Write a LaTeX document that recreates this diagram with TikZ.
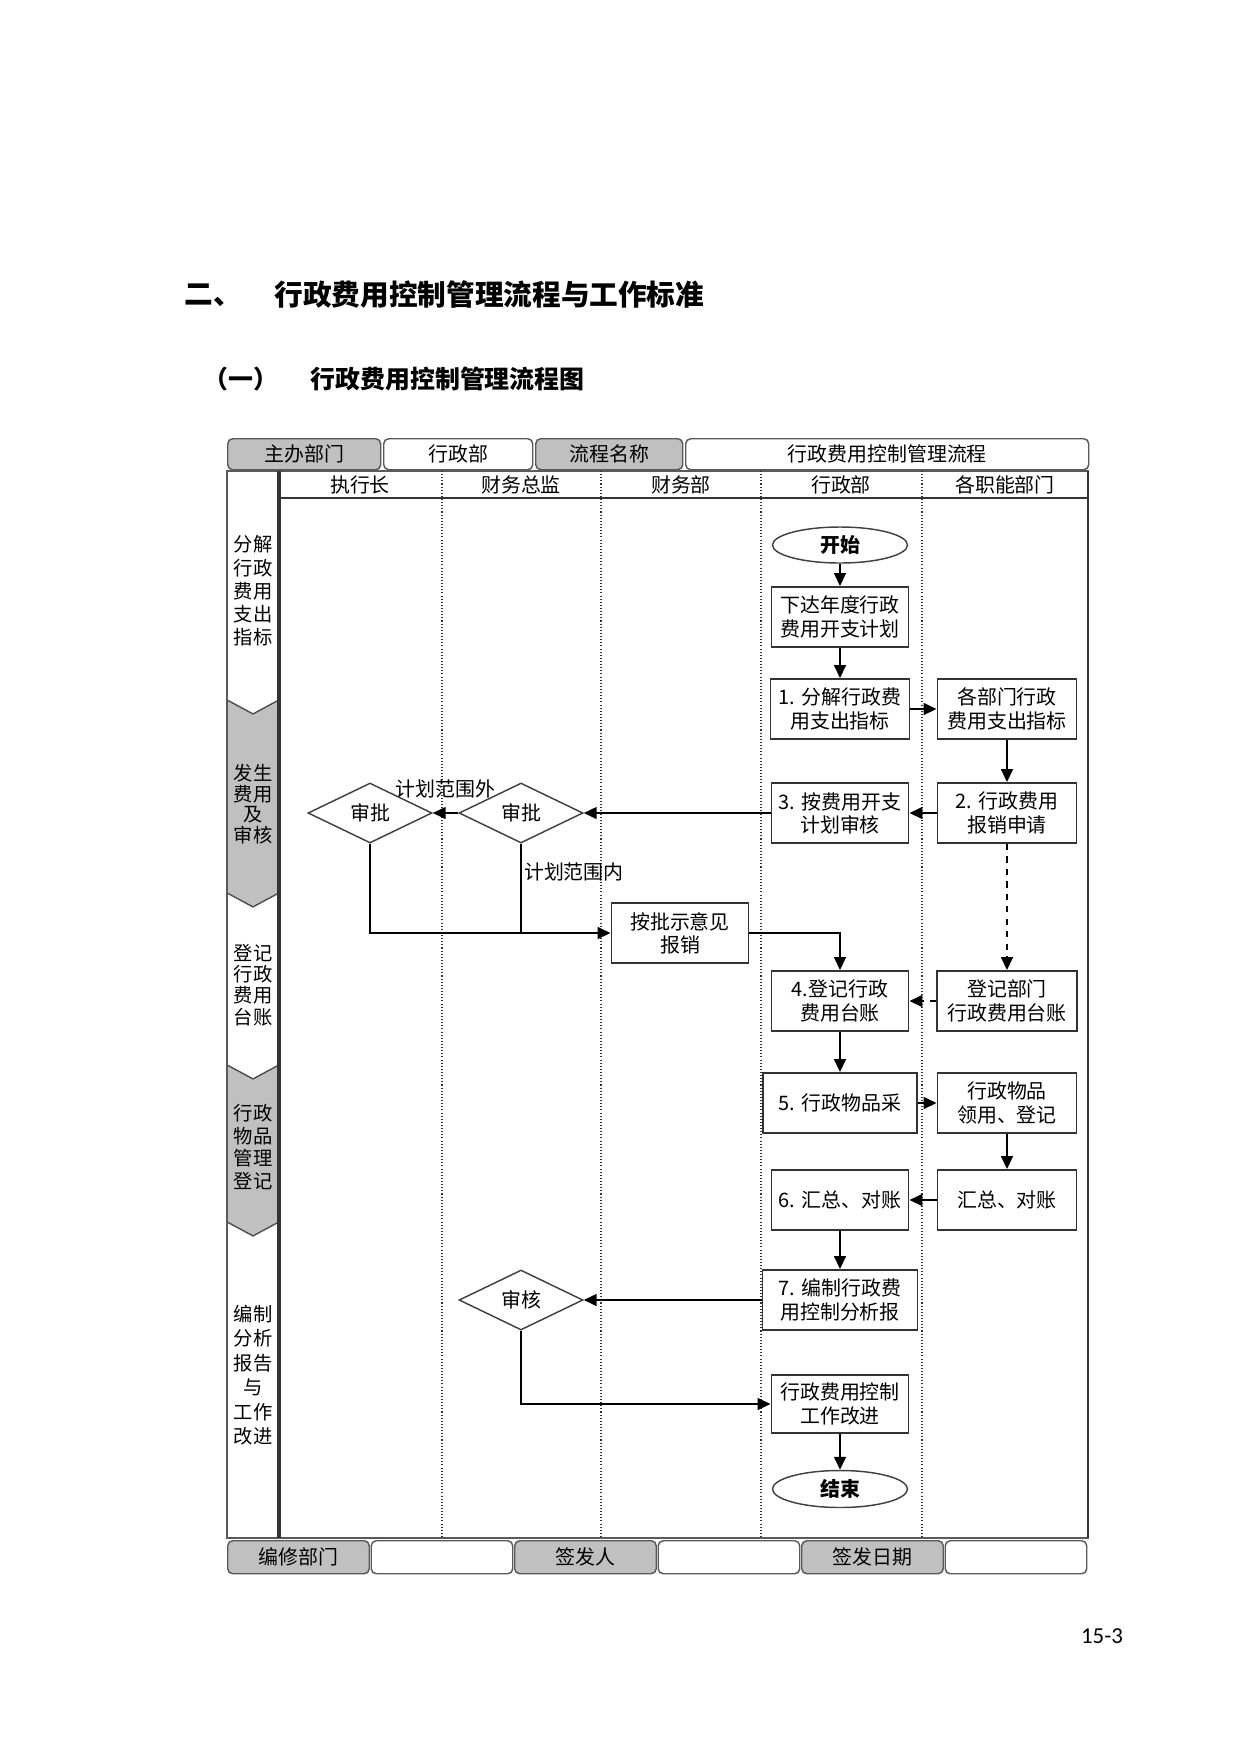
\documentclass[tikz,border=0pt]{standalone}
\usepackage{fontspec}
\setmainfont{Noto Sans CJK SC}
\newfontfamily\pagefont{Carlito}
\usepackage{xcolor}
\usepackage{tikz}
\usetikzlibrary{arrows.meta, shapes.geometric, positioning}

\newlength{\pxu}
\setlength{\pxu}{0.16929mm}
\definecolor{tabgray}{RGB}{192,192,192}
\definecolor{framegray}{RGB}{90,90,90}
\newcommand{\boxfont}{\fontsize{9.6}{11.2}\selectfont}
\newcommand{\stagefont}[1]{\fontsize{9.3}{#1}\selectfont}

\begin{document}
\begin{tikzpicture}[x=0.16929mm, y=-0.16929mm,
                    >={Triangle[length=2.2mm, width=2mm]}, semithick]
\tikzstyle{proc}=[rectangle, draw=black!80, line width=0.9pt, fill=white,
                  minimum width=137\pxu, minimum height=60\pxu,
                  inner sep=0pt, align=center, font=\boxfont]
\tikzstyle{decide}=[diamond, draw=black!75, line width=0.7pt, aspect=2,
                  minimum width=124\pxu, minimum height=60\pxu,
                  inner sep=0pt, font=\boxfont]
\tikzstyle{term}=[ellipse, draw=black!75, line width=0.7pt,
                  minimum width=135\pxu, minimum height=36\pxu,
                  inner sep=0pt, font=\boxfont\bfseries]
\tikzstyle{bartab}=[rectangle, rounded corners=5\pxu, draw=black!65,
                  line width=0.7pt, minimum height=31\pxu, inner sep=0pt,
                  anchor=north west, font=\boxfont]
\tikzstyle{graytab}=[bartab, fill=tabgray]
\tikzstyle{whitetab}=[bartab, fill=white]
\tikzstyle{link}=[->, line width=1pt]
\tikzstyle{lane}=[densely dotted, line width=0.5pt, black!80]
\tikzstyle{stage}=[draw=black!70, line width=0.6pt]
\tikzstyle{stagetext}=[align=center, inner sep=0pt]

\useasboundingbox (0,0) rectangle (1241,1754);

% page headings
\node[anchor=west, font=\fontsize{13.8}{16}\selectfont\bfseries] (secno) at (177,295) {二、};
\node[anchor=west, font=\fontsize{13.8}{16}\selectfont\bfseries] (sectitle) at (267,295) {行政费用控制管理流程与工作标准};
\node[font=\fontsize{12}{14}\selectfont\bfseries] (subno) at (241,379) {（一）};
\node[anchor=west, font=\fontsize{12}{14}\selectfont\bfseries] (subtitle) at (303,379) {行政费用控制管理流程图};

% top bar
\node[graytab, minimum width=153\pxu] (tOwner) at (227,438) {主办部门};
\node[whitetab, minimum width=149\pxu] (tOwnerVal) at (383,438) {行政部};
\node[graytab, minimum width=147\pxu] (tFlow) at (535,438) {流程名称};
\node[whitetab, minimum width=403\pxu] (tFlowVal) at (685,438) {行政费用控制管理流程};

% stage column
\filldraw[stage, fill=white] (227,471) -- (279,471) -- (279,700) -- (253,714) -- (227,700) -- cycle;
\filldraw[stage, fill=tabgray] (227,700) -- (253,714) -- (279,700) -- (279,893) -- (253,907) -- (227,893) -- cycle;
\filldraw[stage, fill=white] (227,893) -- (253,907) -- (279,893) -- (279,1065) -- (253,1079) -- (227,1065) -- cycle;
\filldraw[stage, fill=tabgray] (227,1065) -- (253,1079) -- (279,1065) -- (279,1222) -- (253,1236) -- (227,1222) -- cycle;
\filldraw[stage, fill=white] (227,1222) -- (253,1236) -- (279,1222) -- (279,1538) -- (227,1538) -- cycle;
\node[stagetext, font=\stagefont{11.2}] (g1) at (253,591) {分解\\行政\\费用\\支出\\指标};
\node[stagetext, font=\stagefont{9.9}] (g2) at (253,804) {发生\\费用\\及\\审核};
\node[stagetext, font=\stagefont{10.3}] (g3) at (253,985) {登记\\行政\\费用\\台账};
\node[stagetext, font=\stagefont{11}] (g4) at (253,1147) {行政\\物品\\管理\\登记};
\node[stagetext, font=\stagefont{11.8}] (g5) at (253,1375) {编制\\分析\\报告\\与\\工作\\改进};

% frame and lanes
\draw[framegray, line width=0.8pt] (227,471) rectangle (1088,1538);
\draw[black!80, line width=1.6pt] (279,471) -- (279,1538);
\draw[black!80, line width=1.2pt] (1088,471) -- (1088,1538);
\draw[black!80, line width=0.8pt] (279,498) -- (1088,498);
\draw[lane] (442,471) -- (442,1538);
\draw[lane] (601,471) -- (601,1538);
\draw[lane] (761,471) -- (761,1538);
\draw[lane] (922,471) -- (922,1538);
\node[font=\boxfont] (hCeo) at (360,485) {执行长};
\node[font=\boxfont] (hCfo) at (521,485) {财务总监};
\node[font=\boxfont] (hFin) at (681,485) {财务部};
\node[font=\boxfont] (hAdm) at (841,485) {行政部};
\node[font=\boxfont] (hDept) at (1005,485) {各职能部门};

% flow
\node[term] (start) at (840,545) {开始};
\node[proc, below of=start, node distance=72\pxu] (plan) {下达年度行政\\费用开支计划};
\node[proc, minimum width=139\pxu, below of=plan, node distance=92\pxu] (s1) {1. 分解行政费\\用支出指标};
\node[proc, minimum width=139\pxu, right of=s1, node distance=167\pxu] (d1) {各部门行政\\费用支出指标};
\node[proc, minimum width=139\pxu, below of=d1, node distance=104\pxu] (s2) {2. 行政费用\\报销申请};
\node[proc, below of=s1, node distance=104\pxu] (s3) {3. 按费用开支\\计划审核};
\node[decide, left of=s3, node distance=319\pxu] (chk2) {审批};
\node[decide, left of=chk2, node distance=151\pxu] (chk1) {审批};
\node[proc] (pay) at (680,933) {按批示意见\\报销};
\node[proc, below of=s3, node distance=188\pxu] (s4) {4.登记行政\\费用台账};
\node[proc, minimum width=140\pxu, right of=s4, node distance=167\pxu] (d4) {登记部门\\行政费用台账};
\node[proc, minimum width=154\pxu, below of=s4, node distance=102\pxu] (s5) {5. 行政物品采};
\node[proc, minimum width=139\pxu, right of=s5, node distance=167\pxu] (d5) {行政物品\\领用、登记};
\node[proc, minimum width=139\pxu, below of=d5, node distance=97\pxu] (d6) {汇总、对账};
\node[proc, left of=d6, node distance=167\pxu] (s6) {6. 汇总、对账};
\node[proc, minimum width=155\pxu, below of=s6, node distance=100\pxu] (s7) {7. 编制行政费\\用控制分析报};
\node[decide, left of=s7, node distance=319\pxu] (audit) {审核};
\node[proc, minimum height=58\pxu, below of=s7, node distance=104\pxu] (improve) {行政费用控制\\工作改进};
\node[term, minimum height=37\pxu, below of=improve, node distance=85\pxu] (finish) {结束};

\path[link] (start) edge (plan);
\path[link] (plan) edge (s1);
\path[link] (s1) edge (d1);
\path[link] (d1) edge (s2);
\path[link] (s2) edge (s3);
\path[link] (s3) edge (chk2);
\path[link] (chk2) edge node[above=14\pxu, inner sep=0pt, font=\boxfont] (outLbl) {计划范围外} (chk1);
\draw[link] (chk1.south) |- (pay.west);
\draw[line width=1pt] (chk2.south) -- (chk2.south |- pay.west)
  node[pos=0.32, anchor=west, inner sep=1pt, font=\boxfont] (inLbl) {计划范围内};
\draw[link] (pay.east) -| (s4.north);
\path[link, dashed] (s2) edge (d4);
\path[link, dashed] (d4) edge (s4);
\path[link] (s4) edge (s5);
\path[link] (s5) edge (d5);
\path[link] (d5) edge (d6);
\path[link] (d6) edge (s6);
\path[link] (s6) edge (s7);
\path[link] (s7) edge (audit);
\draw[link] (audit.south) |- (improve.west);
\path[link] (improve) edge (finish);

% bottom bar
\node[graytab, minimum width=141.5\pxu, minimum height=33\pxu] (bEditor) at (227,1540) {编修部门};
\node[whitetab, minimum width=141.5\pxu, minimum height=33\pxu] (bEditorVal) at (370.5,1540) {};
\node[graytab, minimum width=141.5\pxu, minimum height=33\pxu] (bSigner) at (514,1540) {签发人};
\node[whitetab, minimum width=141.5\pxu, minimum height=33\pxu] (bSignerVal) at (657.5,1540) {};
\node[graytab, minimum width=141.5\pxu, minimum height=33\pxu] (bDate) at (801,1540) {签发日期};
\node[whitetab, minimum width=141.5\pxu, minimum height=33\pxu] (bDateVal) at (944.5,1540) {};

\node[font=\pagefont\fontsize{11}{13}\selectfont] (pageno) at (1102,1636) {15-3};
\end{tikzpicture}
\end{document}
